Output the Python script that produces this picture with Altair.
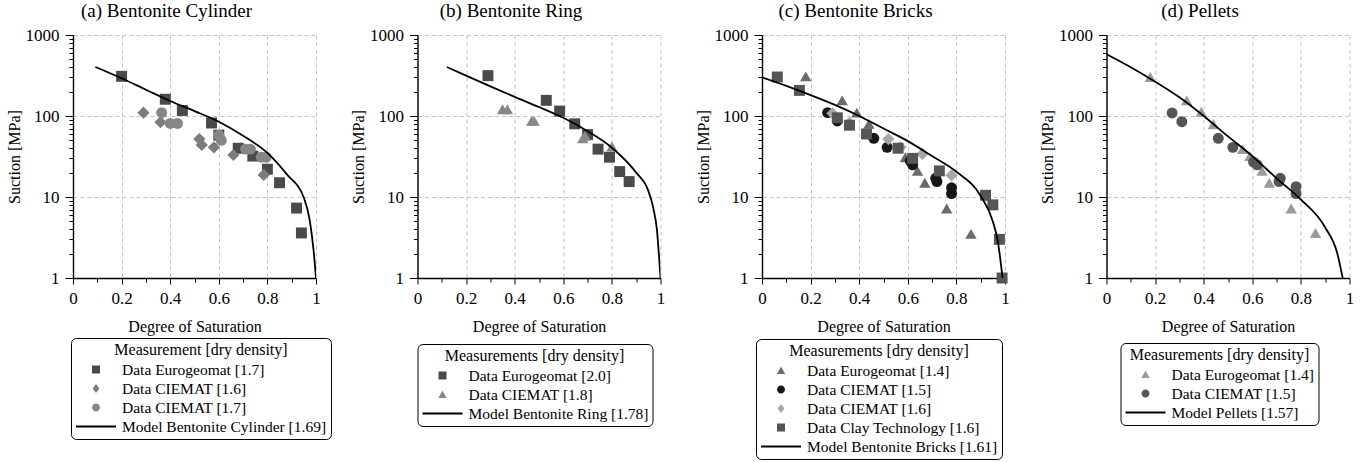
import altair as alt
import pandas as pd

FONT = "Liberation Serif"

# ---------------- data ----------------
# (a) Bentonite Cylinder
a_euro_s = [0.20, 0.38, 0.45, 0.57, 0.60, 0.68, 0.74, 0.80, 0.85, 0.92, 0.94]
a_euro_v = [309, 161, 117, 82, 58, 40, 32, 22, 15, 7.3, 3.6]
a_c16_s = [0.29, 0.36, 0.52, 0.53, 0.58, 0.66, 0.785]
a_c16_v = [110, 84, 52, 44, 41, 33, 18.7]
a_c17_s = [0.365, 0.40, 0.43, 0.60, 0.61, 0.71, 0.73, 0.775, 0.795]
a_c17_v = [110, 81, 81, 58, 50, 39, 39, 31, 31]
a_model_s = [0.092, 0.2, 0.3, 0.4, 0.5, 0.6, 0.7, 0.8, 0.88, 0.95, 0.975, 0.99, 1.0]
a_model_v = [403, 292, 211, 153, 115, 85, 57, 35, 19, 9.8, 5.0, 2.2, 1.0]

# (b) Bentonite Ring
b_euro_s = [0.29, 0.53, 0.585, 0.647, 0.70, 0.743, 0.79, 0.832, 0.871]
b_euro_v = [315, 156, 115, 80, 59, 39, 31, 20.6, 15.5]
b_c18_s = [0.35, 0.37, 0.47, 0.48, 0.68, 0.69, 0.80]
b_c18_v = [121, 121, 87, 87, 53, 57, 42]
b_model_s = [0.121, 0.2, 0.3, 0.4, 0.5, 0.6, 0.7, 0.8, 0.9, 0.95, 0.97, 0.985, 1.0]
b_model_v = [403, 315, 232, 172, 129, 95, 65, 40.6, 20, 11.9, 7.4, 4.0, 1.0]

# (c) Bentonite Bricks
c_euro_s = [0.18, 0.33, 0.39, 0.44, 0.59, 0.64, 0.67, 0.76, 0.86]
c_euro_v = [309, 156, 110, 80, 31, 21, 15, 7.2, 3.5]
c_c15_s = [0.27, 0.31, 0.46, 0.515, 0.61, 0.62, 0.715, 0.72, 0.78, 0.78]
c_c15_v = [110, 87, 53, 41, 28, 25, 17, 15.5, 13, 11]
c_c16_s = [0.29, 0.36, 0.52, 0.57, 0.66, 0.78]
c_c16_v = [108, 82, 52, 41, 34, 18.5]
c_clay_s = [0.063, 0.154, 0.31, 0.36, 0.43, 0.56, 0.62, 0.73, 0.92, 0.95, 0.977, 0.988]
c_clay_v = [303, 207, 95, 77, 60, 40, 30, 21, 10.5, 8, 3, 1]
c_model_s = [0.0, 0.1, 0.2, 0.3, 0.4, 0.5, 0.6, 0.7, 0.8, 0.9, 0.95, 0.97, 0.99]
c_model_v = [300, 235, 181, 137, 100, 70, 49, 32, 20.5, 10.3, 5.0, 2.9, 1.0]

# (d) Pellets
d_euro_s = [0.18, 0.33, 0.39, 0.44, 0.56, 0.59, 0.64, 0.67, 0.76, 0.86]
d_euro_v = [303, 156, 113, 79, 39, 32, 21, 15, 7.2, 3.6]
d_c15_s = [0.27, 0.31, 0.46, 0.52, 0.605, 0.62, 0.715, 0.71, 0.78, 0.78]
d_c15_v = [109, 85, 53, 41, 27, 25, 17, 15.5, 13.4, 11]
d_model_s = [0.0, 0.1, 0.2, 0.3, 0.4, 0.5, 0.6, 0.7, 0.8, 0.9, 0.95, 0.972]
d_model_v = [580, 400, 265, 170, 100, 56, 32, 17, 9.3, 4.2, 2.0, 1.0]

# tick values
X_TICKS = [0, 0.1, 0.2, 0.3, 0.4, 0.5, 0.6, 0.7, 0.8, 0.9, 1]
Y_TICKS = [1, 2, 3, 4, 5, 6, 7, 8, 9, 10, 20, 30, 40, 50, 60, 70, 80, 90,
           100, 200, 300, 400, 500, 600, 700, 800, 900, 1000]

# legend symbol paths (unit square -1..1, scaled by legend symbol size)
P_SQUARE = "M-0.2,-0.2H0.2V0.2H-0.2Z"
P_DIAMOND = "M0,-0.22L0.17,0L0,0.22L-0.17,0Z"
P_CIRCLE = "M0.2,0A0.2,0.2,0,1,1,-0.2,0A0.2,0.2,0,1,1,0.2,0Z"
P_TRIANGLE = "M0,-0.2L0.21,0.17H-0.21Z"
P_LINE = "M-1,0H1"

X_MAJOR = "round(datum.value*10) % 2 == 0"
Y_MAJOR = "indexof([1,10,100,1000], datum.value) >= 0"


def x_enc():
    return alt.X(
        "s:Q", title="Degree of Saturation",
        scale=alt.Scale(domain=[0, 1], nice=False, zero=False),
        axis=alt.Axis(
            values=X_TICKS, format="~g",
            labelExpr=f"{X_MAJOR} ? datum.label : ''",
            grid=True, gridColor="#c4c4c4", gridDash=[4, 3], gridWidth=1,
            gridOpacity={"condition": {"test": X_MAJOR, "value": 1}, "value": 0},
            tickSize={"condition": {"test": X_MAJOR, "value": 6}, "value": 4},
            labelFlush=False, labelOverlap=False, labelPadding=6, titlePadding=12,
        ),
    )


def y_enc():
    return alt.Y(
        "v:Q", title="Suction [MPa]",
        scale=alt.Scale(type="log", domain=[1, 1000], nice=False),
        axis=alt.Axis(
            values=Y_TICKS, format="~g",
            labelExpr=f"{Y_MAJOR} ? datum.label : ''",
            grid=True, gridColor="#c4c4c4", gridDash=[4, 3], gridWidth=1,
            gridOpacity={"condition": {"test": Y_MAJOR, "value": 1}, "value": 0},
            tickSize={"condition": {"test": Y_MAJOR, "value": 8}, "value": 4},
            labelFlush=False, labelOverlap=False, labelPadding=6, titlePadding=3,
        ),
    )


def panel(title, legend_title, series, model_name, model_s, model_v, lx, ly):
    layers = []
    frames = []
    for name, shape, path, color, size, s, v in series:
        df = pd.DataFrame({"s": s, "v": v, "series": name})
        frames.append(df)
        layers.append(
            alt.Chart(df).mark_point(filled=True, shape=shape, size=size, color=color,
                                     opacity=1, strokeWidth=0)
            .encode(x=x_enc(), y=y_enc())
        )
    mdf = pd.DataFrame({"s": model_s, "v": model_v})
    layers.append(
        alt.Chart(mdf).mark_line(color="black", strokeWidth=1.8, interpolate="monotone", clip=True)
        .encode(x=x_enc(), y=y_enc())
    )
    names = [s[0] for s in series] + [model_name]
    paths = [s[2] for s in series] + [P_LINE]
    fills = [s[3] for s in series] + ["transparent"]
    strokes = ["transparent"] * len(series) + ["black"]
    leg = alt.Legend(
        title=legend_title, orient="none", legendX=lx, legendY=ly, direction="vertical",
        columns=1, symbolSize=1600, clipHeight=17, rowPadding=2, labelOffset=5,
        padding=4, strokeColor="black", cornerRadius=5, symbolStrokeWidth=2,
        titleAnchor="middle", titleFont=FONT, titleFontSize=16, titleFontWeight="normal",
        titleColor="black", titlePadding=3, titleLimit=400,
        labelFont=FONT, labelFontSize=15.5, labelColor="black", labelLimit=400,
        symbolOpacity=1,
    )
    alldf = pd.concat(frames, ignore_index=True)
    hidden = (
        alt.Chart(alldf).transform_filter("false").mark_point(filled=True, opacity=1)
        .encode(
            x=x_enc(), y=y_enc(),
            shape=alt.Shape("series:N", scale=alt.Scale(domain=names, range=paths), legend=leg),
            fill=alt.Fill("series:N", scale=alt.Scale(domain=names, range=fills), legend=leg),
            stroke=alt.Stroke("series:N", scale=alt.Scale(domain=names, range=strokes), legend=leg),
        )
    )
    layers.append(hidden)
    return alt.layer(*layers).properties(
        width=243, height=243,
        title=alt.TitleParams(title, anchor="middle", frame="group", dx=-28, font=FONT,
                              fontSize=19, fontWeight="normal", color="black", offset=5),
    )


pa = panel("(a) Bentonite Cylinder", "Measurement [dry density]", [
    ("Data Eurogeomat [1.7]", "square", P_SQUARE, "#4a4a4a", 120, a_euro_s, a_euro_v),
    ("Data CIEMAT [1.6]", "diamond", P_DIAMOND, "#7c7c7c", 150, a_c16_s, a_c16_v),
    ("Data CIEMAT [1.7]", "circle", P_CIRCLE, "#868686", 120, a_c17_s, a_c17_v),
], "Model Bentonite Cylinder [1.69]", a_model_s, a_model_v, -2, 303)

pb = panel("(b) Bentonite Ring", "Measurements [dry density]", [
    ("Data Eurogeomat [2.0]", "square", P_SQUARE, "#4a4a4a", 120, b_euro_s, b_euro_v),
    ("Data CIEMAT [1.8]", "triangle-up", P_TRIANGLE, "#888888", 130, b_c18_s, b_c18_v),
], "Model Bentonite Ring [1.78]", b_model_s, b_model_v, 0, 309)

pc = panel("(c) Bentonite Bricks", "Measurements [dry density]", [
    ("Data Eurogeomat [1.4]", "triangle-up", P_TRIANGLE, "#6a6a6a", 130, c_euro_s, c_euro_v),
    ("Data CIEMAT [1.5]", "circle", P_CIRCLE, "#161616", 120, c_c15_s, c_c15_v),
    ("Data CIEMAT [1.6]", "diamond", P_DIAMOND, "#a6a6a6", 150, c_c16_s, c_c16_v),
    ("Data Clay Technology [1.6]", "square", P_SQUARE, "#555555", 120, c_clay_s, c_clay_v),
], "Model Bentonite Bricks [1.61]", c_model_s, c_model_v, -6, 304)

pd_ = panel("(d) Pellets", "Measurements [dry density]", [
    ("Data Eurogeomat [1.4]", "triangle-up", P_TRIANGLE, "#9a9a9a", 130, d_euro_s, d_euro_v),
    ("Data CIEMAT [1.5]", "circle", P_CIRCLE, "#555555", 120, d_c15_s, d_c15_v),
], "Model Pellets [1.57]", d_model_s, d_model_v, 14, 308)

chart = (
    alt.hconcat(pa, pb, pc, pd_, spacing=101.5, bounds="flush")
    .resolve_scale(shape="independent", fill="independent", stroke="independent")
    .configure(font=FONT, padding={"left": 6, "top": 2, "right": 5, "bottom": 0},
               background="white")
    .configure_view(stroke=None)
    .configure_axis(
        labelFont=FONT, labelFontSize=17, labelColor="black",
        titleFont=FONT, titleFontSize=16, titleFontWeight="normal", titleColor="black",
        domainColor="black", domainWidth=1.4, tickColor="black", tickWidth=1,
    )
)

chart.save("out.html", embed_options={"renderer": "svg", "actions": False})
